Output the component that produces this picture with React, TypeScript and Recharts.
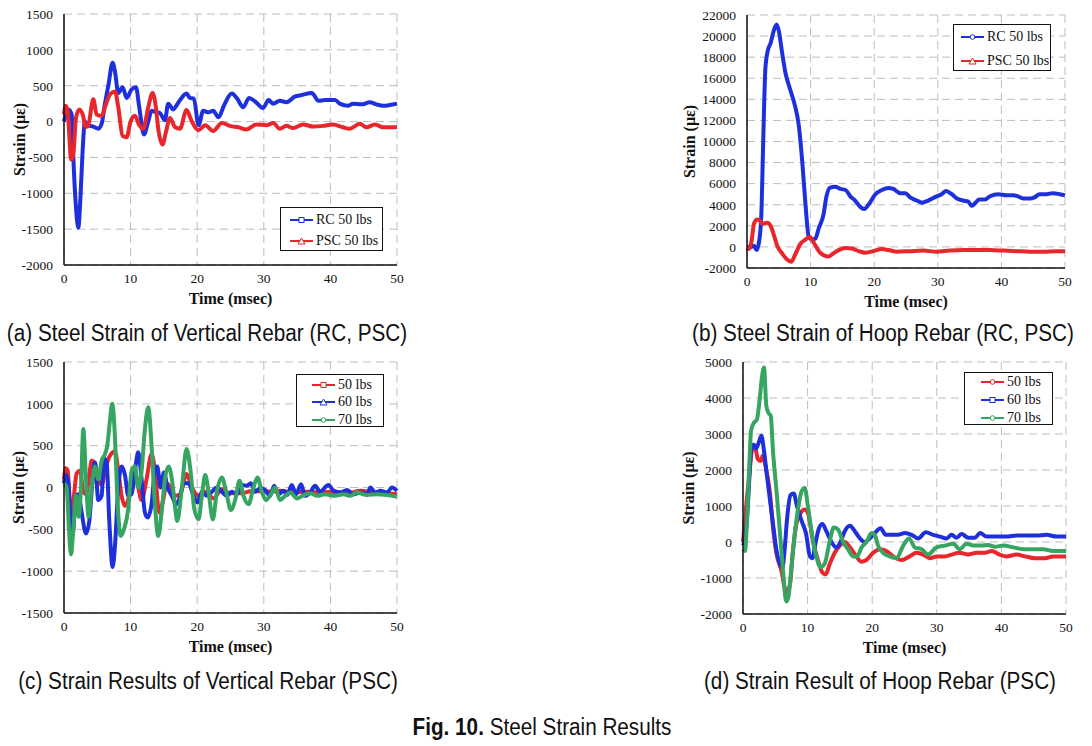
import React from "react";
import { LineChart, Line, XAxis, YAxis, CartesianGrid } from "recharts";

// time axis (msec)
const xTicks = [0, 10, 20, 30, 40, 50];

// (a) vertical rebar, RC vs PSC
const aYTicks = [-2000, -1500, -1000, -500, 0, 500, 1000, 1500];
const aRcT = [0, 0.65, 1.15, 1.4, 1.8, 2.15, 2.5, 2.8, 3.15, 3.5, 4.4, 5.15, 5.65, 6.15, 6.65, 7.3, 7.65, 8.15, 8.8, 9.4, 10.15, 10.8, 11.3, 12.0, 12.65, 13.15, 13.9, 14.4, 15.15, 15.65, 16.4, 17.2, 18.4, 18.9, 19.5, 20.2, 20.9, 21.7, 22.4, 23.2, 24.0, 25.2, 26.0, 26.9, 27.8, 28.7, 29.9, 30.7, 31.4, 32.4, 33.4, 34.7, 35.7, 37.2, 38.2, 39.2, 40.7, 41.4, 42.7, 43.4, 44.7, 45.9, 46.9, 47.9, 48.9, 50];
const aRcV = [0, 170, 100, -500, -1200, -1480, -1000, -400, 0, -50, -70, -100, -30, 250, 500, 820, 700, 400, 480, 330, 450, 480, 200, -180, 0, 150, 130, 120, 20, 250, 170, 270, 390, 330, 320, -50, 150, 130, 150, 60, 220, 390, 320, 200, 330, 280, 190, 300, 250, 290, 270, 350, 370, 400, 290, 300, 300, 250, 220, 250, 240, 270, 240, 220, 230, 250];
const aPscT = [0, 0.25, 0.55, 0.8, 1.05, 1.4, 1.8, 2.3, 2.8, 3.3, 3.65, 4.4, 4.9, 5.65, 6.15, 6.9, 7.65, 8.15, 8.8, 9.4, 10.0, 10.65, 11.3, 11.9, 12.65, 13.3, 13.8, 14.15, 14.8, 15.3, 15.9, 16.7, 17.4, 18.4, 19.2, 20.2, 21.2, 22.4, 23.7, 24.9, 26.2, 27.4, 28.9, 30.4, 31.4, 32.4, 33.4, 34.4, 35.9, 37.4, 38.9, 40.4, 41.9, 42.9, 44.4, 45.4, 46.7, 47.9, 50];
const aPscV = [100, 220, 150, -200, -530, -450, 50, 170, 100, -80, -50, 310, 100, 80, 200, 380, 420, 200, -200, -220, 0, 80, -50, -100, 200, 400, 200, -100, -320, -150, 50, -80, -100, 160, 0, -120, -50, -130, -20, -60, -80, -110, -40, -50, -20, -100, -60, -90, -40, -70, -60, -40, -80, -100, -30, -80, -40, -80, -80];

// (b) hoop rebar, RC vs PSC
const bYTicks = [-2000, 0, 2000, 4000, 6000, 8000, 10000, 12000, 14000, 16000, 18000, 20000, 22000];
const bRcT = [0, 0.57, 1.1, 1.5, 1.9, 2.25, 2.55, 2.9, 3.3, 3.7, 4.2, 4.65, 5.0, 5.5, 6.05, 6.75, 7.5, 8.15, 8.7, 9.2, 9.7, 10.25, 10.75, 11.3, 12.0, 12.5, 13.0, 13.9, 14.7, 15.5, 16.25, 17.0, 17.8, 18.45, 19.1, 20.2, 21.2, 22.25, 23.0, 24.1, 24.9, 25.65, 26.7, 27.5, 28.5, 29.8, 30.6, 31.3, 32.2, 33.0, 34.0, 34.8, 35.3, 35.8, 36.5, 37.4, 38.2, 39.5, 40.8, 41.85, 42.6, 43.4, 44.5, 45.2, 46.0, 47.1, 48.1, 49.2, 50];
const bRcV = [0, 0, 100, -300, 500, 3000, 10000, 17000, 18700, 19300, 20500, 21100, 20500, 18500, 16500, 15000, 13500, 11500, 8000, 4000, 1000, 700, 800, 1800, 3000, 4800, 5600, 5700, 5500, 5400, 4800, 4400, 3800, 3600, 4000, 5000, 5400, 5600, 5500, 5100, 5100, 4700, 4400, 4200, 4400, 4800, 5000, 5300, 5000, 4600, 4400, 4300, 3900, 4100, 4500, 4500, 4800, 5000, 4900, 4900, 4800, 4600, 4600, 4700, 5000, 5000, 5100, 5000, 4900];
const bPscT = [0, 0.3, 0.7, 1.1, 1.6, 2.0, 2.4, 3.2, 3.7, 4.2, 4.75, 5.5, 6.3, 6.95, 7.6, 8.4, 9.2, 9.9, 10.5, 11.3, 12.1, 12.85, 13.6, 14.4, 15.5, 16.5, 17.55, 18.6, 19.9, 21.2, 22.25, 23.6, 25.65, 27.7, 29.8, 31.9, 34.0, 36.1, 38.2, 40.3, 42.4, 44.5, 46.55, 48.6, 50];
const bPscV = [-100, -200, 500, 2200, 2600, 2500, 2200, 2300, 2000, 1200, 100, -600, -1200, -1400, -700, 300, 700, 950, 400, -400, -800, -900, -600, -300, -100, -150, -400, -550, -400, -200, -300, -450, -400, -350, -450, -350, -300, -300, -300, -350, -400, -450, -450, -400, -400];

// (c) vertical rebar, PSC 50/60/70 lbs
const cYTicks = [-1500, -1000, -500, 0, 500, 1000, 1500];
const c50T = [0, 0.25, 0.55, 0.9, 1.15, 1.5, 1.9, 2.4, 2.9, 3.3, 3.8, 4.15, 4.65, 5.15, 5.65, 6.3, 6.9, 7.65, 8.15, 8.65, 9.15, 9.8, 10.4, 11.0, 11.65, 12.4, 13.15, 13.65, 14.3, 14.9, 15.4, 16.0, 16.7, 17.45, 18.4, 19.2, 20.2, 21.2, 22.45, 23.7, 24.95, 26.45, 28.45, 30.45, 32.45, 34.5, 36.5, 38.5, 40.5, 42.5, 44.5, 46.5, 48.5, 50];
const c50V = [100, 230, 200, -200, -400, -100, 170, 200, -50, -80, 150, 320, 280, 100, 30, 250, 380, 430, 200, -100, -220, -100, 150, 50, -150, 100, 400, 200, -300, -150, 50, 0, -100, -80, 160, 0, -100, -50, -130, -20, -70, -70, -40, -50, -40, -60, -50, -60, -50, -70, -40, -60, -70, -80];
const c60T = [0, 0.3, 0.65, 1.0, 1.3, 1.8, 2.15, 2.65, 3.3, 3.8, 4.3, 4.65, 5.15, 5.65, 6.0, 6.4, 6.8, 7.3, 7.65, 8.15, 8.65, 9.15, 9.65, 10.15, 10.65, 11.15, 11.65, 12.15, 12.55, 13.15, 13.65, 14.0, 14.5, 15.0, 15.55, 16.2, 16.85, 17.45, 17.95, 18.7, 19.45, 20.05, 20.7, 21.45, 22.2, 22.95, 23.7, 24.45, 25.2, 25.95, 26.7, 27.45, 28.05, 28.7, 29.45, 30.2, 30.95, 31.55, 32.2, 32.95, 33.55, 34.2, 34.85, 35.6, 36.2, 36.95, 37.7, 38.45, 39.7, 40.5, 41.5, 42.5, 43.5, 44.5, 45.5, 46.0, 46.75, 47.5, 48.5, 49.25, 50];
const c60V = [50, 150, 50, -400, -550, -100, -80, -300, -550, -400, 100, 300, -150, -100, 350, 300, -400, -950, -700, 0, 250, 150, -100, -80, 200, 420, 100, -300, -360, -200, 200, 250, 0, 180, 0, -100, -200, -100, 50, 50, -100, -180, -50, -100, -50, 0, -50, -100, -50, -80, 30, 20, 50, -50, -10, -30, -100, 20, -80, -40, -90, 30, -80, 40, -100, -60, 20, -50, 30, -40, -60, -30, -80, -60, -80, 0, -60, -40, -60, 0, -40];
const c70T = [0, 0.4, 0.75, 1.05, 1.4, 1.8, 2.2, 2.55, 2.9, 3.3, 3.7, 4.15, 4.65, 5.15, 5.65, 6.15, 6.5, 6.9, 7.25, 7.65, 8.0, 8.5, 9.0, 9.65, 10.15, 10.65, 11.15, 11.65, 12.15, 12.65, 13.15, 13.65, 14.15, 14.65, 15.15, 15.7, 16.2, 16.7, 17.0, 17.7, 18.4, 19.0, 19.55, 20.2, 20.7, 21.2, 21.7, 22.35, 22.95, 23.7, 24.35, 25.05, 25.7, 26.35, 26.95, 27.7, 28.45, 29.05, 29.7, 30.35, 31.05, 31.7, 32.45, 33.2, 33.95, 35.0, 36.0, 37.0, 38.0, 39.2, 40.5, 42.0, 43.0, 44.0, 45.5, 47.0, 48.5, 50];
const c70V = [50, 0, -500, -800, -500, -100, -350, 0, 700, 100, -350, 0, 250, 100, 320, 400, 500, 800, 1000, 600, -100, -580, -500, -250, 200, 250, 0, 200, 700, 960, 500, -200, -580, -300, 100, 250, 100, -250, -400, 0, 460, 200, -250, -380, -100, 150, -50, -380, -50, 120, -50, -270, -150, 80, -100, -200, 0, 120, -50, -150, -80, 0, -150, -100, -60, -130, -90, -70, -100, -80, -100, -80, -100, -60, -90, -80, -90, -110];

// (d) hoop rebar, PSC 50/60/70 lbs
const dYTicks = [-2000, -1000, 0, 1000, 2000, 3000, 4000, 5000];
const d50T = [0, 0.3, 0.6, 0.95, 1.25, 1.65, 1.95, 2.3, 2.7, 3.1, 3.6, 4.15, 4.65, 5.15, 5.95, 6.7, 7.25, 7.75, 8.25, 8.9, 9.55, 10.05, 10.85, 11.6, 12.3, 12.8, 13.45, 14.2, 15.0, 15.75, 16.55, 17.55, 18.35, 19.1, 20.15, 21.2, 22.2, 23.25, 24.55, 25.8, 26.85, 27.9, 28.9, 29.95, 31.25, 32.3, 33.55, 34.85, 36.15, 37.45, 38.5, 39.75, 40.8, 42.35, 43.65, 45.2, 46.75, 48.0, 50];
const d50V = [0, 600, 1200, 1800, 2400, 2700, 2600, 2300, 2250, 2400, 2000, 1400, 400, -300, -800, -1400, -1200, -200, 500, 800, 900, 800, 0, -500, -850, -900, -600, -300, -100, 0, -150, -400, -550, -500, -300, -200, -250, -400, -500, -400, -300, -350, -450, -400, -400, -350, -300, -350, -300, -300, -250, -350, -400, -350, -400, -450, -450, -400, -400];
const d60T = [0, 0.4, 0.75, 1.05, 1.3, 1.65, 2.05, 2.5, 2.85, 3.2, 3.6, 4.15, 4.65, 5.15, 5.7, 6.1, 6.45, 6.8, 7.35, 7.85, 8.35, 9.05, 9.8, 10.35, 10.75, 11.25, 11.8, 12.3, 12.9, 13.7, 14.45, 15.1, 15.75, 16.55, 17.3, 18.1, 18.85, 19.6, 20.4, 21.3, 22.1, 23.0, 24.0, 25.05, 26.1, 27.1, 28.3, 29.45, 30.5, 31.5, 32.3, 33.05, 33.85, 34.85, 35.9, 36.7, 37.7, 39.25, 40.8, 42.35, 43.9, 45.45, 47.0, 48.55, 50];
const d60V = [-100, 200, 1000, 2000, 2600, 2700, 2600, 2800, 2950, 2600, 2000, 1200, 500, -200, -600, -700, -200, 600, 1300, 1350, 1000, 600, 200, -400, -450, 0, 400, 500, 300, 0, -150, 0, 300, 450, 300, 100, 0, 100, 250, 380, 200, 200, 200, 250, 200, 100, 270, 200, 150, 100, 200, 120, 220, 120, 120, 250, 150, 150, 150, 180, 180, 180, 200, 150, 150];
const d70T = [0, 0.3, 0.6, 0.95, 1.25, 1.65, 2.15, 2.6, 2.95, 3.25, 3.6, 3.9, 4.3, 4.65, 5.15, 5.7, 6.2, 6.7, 7.05, 7.5, 8.0, 8.5, 9.05, 9.55, 10.05, 10.6, 11.35, 12.0, 12.65, 13.4, 14.05, 14.7, 15.5, 16.25, 17.05, 17.65, 18.35, 19.1, 19.9, 20.4, 20.9, 21.7, 22.7, 23.75, 24.8, 25.7, 26.6, 27.65, 28.65, 29.95, 31.25, 32.55, 33.55, 34.6, 35.65, 36.9, 37.95, 39.0, 40.3, 41.85, 43.4, 44.95, 46.5, 48.0, 50];
const d70V = [-200, -250, 500, 2000, 3100, 3300, 3400, 4000, 4600, 4850, 3800, 3600, 3500, 2500, 1500, 300, -800, -1650, -1500, -700, 200, 900, 1400, 1500, 1000, 300, -400, -700, -600, 0, 400, 350, 0, -200, -400, -400, -150, 0, 250, 200, -100, -300, -400, -450, -100, 100, -150, -200, -350, -150, -100, -50, -200, -50, -100, -100, -80, -130, -100, -150, -200, -200, -200, -250, -250];

const BLUE = "#1d30dc";
const RED = "#e8262b";
const GREEN = "#35a561";
const SERIF = '"Liberation Serif", "Times New Roman", serif';
const CAPTION = '"Liberation Sans", Arial, sans-serif';

const zip = (t: number[], v: number[]) => t.map((x, i) => ({ t: x, v: v[i] }));

type Series = { name: string; color: string; marker: string; t: number[]; v: number[] };

function Panel(props: any) {
  const { left, top, width, height, margin, yWidth, yTitleOffset, domain, ticks, series } = props;
  return (
    <div style={{ position: "absolute", left, top }}>
      <LineChart width={width} height={height} margin={margin} style={{ fontFamily: SERIF }}>
        <CartesianGrid stroke="#bdbdbd" strokeDasharray="8 5" />
        <XAxis
          dataKey="t"
          type="number"
          domain={[0, 50]}
          ticks={xTicks}
          interval={0}
          height={45}
          tickLine={false}
          tickSize={0}
          tickMargin={8}
          axisLine={{ stroke: "#111", strokeWidth: 1.5 }}
          tick={{ fontSize: 13.5, fill: "#111", fontFamily: SERIF }}
          label={{ value: "Time (msec)", position: "insideBottom", offset: 6, style: { fontWeight: "bold", fontSize: 16, fill: "#111", fontFamily: SERIF } }}
        />
        <XAxis xAxisId="top" orientation="top" type="number" domain={[0, 50]} height={0} tick={false} tickLine={false} axisLine={{ stroke: "#111", strokeWidth: 1.5 }} />
        <YAxis
          type="number"
          domain={domain}
          ticks={ticks}
          interval={0}
          width={yWidth}
          tickLine={false}
          tickSize={0}
          tickMargin={11}
          axisLine={{ stroke: "#111", strokeWidth: 1.5 }}
          tick={{ fontSize: 13.5, fill: "#111", fontFamily: SERIF }}
          label={{ value: "Strain (με)", angle: -90, position: "insideLeft", offset: yTitleOffset, style: { textAnchor: "middle", fontWeight: "bold", fontSize: 16, fill: "#111", fontFamily: SERIF } }}
        />
        <YAxis yAxisId="right" orientation="right" type="number" domain={domain} width={0} tick={false} tickLine={false} axisLine={{ stroke: "#111", strokeWidth: 1.5 }} />
        {series.map((s: Series) => (
          <Line
            key={s.name}
            data={zip(s.t, s.v)}
            dataKey="v"
            name={s.name}
            type="monotone"
            stroke={s.color}
            strokeWidth={4}
            dot={false}
            isAnimationActive={false}
          />
        ))}
      </LineChart>
    </div>
  );
}

function Marker({ kind, color }: { kind: string; color: string }) {
  if (kind === "square") return <rect x={9} y={2.5} width={5} height={5} fill="#fff" stroke={color} strokeWidth={1} />;
  if (kind === "triangle") return <polygon points="11.5,2 15,8 8,8" fill="#fff" stroke={color} strokeWidth={1} />;
  return <circle cx={11.5} cy={5} r={2.3} fill="#fff" stroke={color} strokeWidth={1} />;
}

function LegendBox(props: any) {
  const { x, y, w, h, padTop, padLeft, rowH, series } = props;
  return (
    <div
      style={{
        position: "absolute",
        left: x,
        top: y,
        width: w,
        height: h,
        boxSizing: "border-box",
        border: "1.5px solid #111",
        background: "#fff",
        paddingTop: padTop,
        paddingLeft: padLeft,
        fontFamily: SERIF,
        fontSize: 14,
        color: "#111",
      }}
    >
      {series.map((s: Series) => (
        <div key={s.name} style={{ height: rowH, display: "flex", alignItems: "center", whiteSpace: "nowrap" }}>
          <svg width={24} height={10} style={{ marginRight: 2 }}>
            <line x1={0} y1={5} x2={23} y2={5} stroke={s.color} strokeWidth={2} />
            <Marker kind={s.marker} color={s.color} />
          </svg>
          <span>{s.name}</span>
        </div>
      ))}
    </div>
  );
}

function Caption({ cx, cy, children, size = 23 }: any) {
  return (
    <div
      style={{
        position: "absolute",
        left: cx,
        top: cy - size / 2,
        transform: "translateX(-50%) scaleX(0.9)",
        fontFamily: CAPTION,
        fontSize: size,
        lineHeight: `${size}px`,
        whiteSpace: "nowrap",
        color: "#111",
      }}
    >
      {children}
    </div>
  );
}

export default function App() {
  const aSeries: Series[] = [
    { name: "RC 50 lbs", color: BLUE, marker: "square", t: aRcT, v: aRcV },
    { name: "PSC 50 lbs", color: RED, marker: "triangle", t: aPscT, v: aPscV },
  ];
  const bSeries: Series[] = [
    { name: "RC 50 lbs", color: BLUE, marker: "circle", t: bRcT, v: bRcV },
    { name: "PSC 50 lbs", color: RED, marker: "triangle", t: bPscT, v: bPscV },
  ];
  const cSeries: Series[] = [
    { name: "50 lbs", color: RED, marker: "square", t: c50T, v: c50V },
    { name: "60 lbs", color: BLUE, marker: "triangle", t: c60T, v: c60V },
    { name: "70 lbs", color: GREEN, marker: "circle", t: c70T, v: c70V },
  ];
  const dSeries: Series[] = [
    { name: "50 lbs", color: RED, marker: "circle", t: d50T, v: d50V },
    { name: "60 lbs", color: BLUE, marker: "square", t: d60T, v: d60V },
    { name: "70 lbs", color: GREEN, marker: "circle", t: d70T, v: d70V },
  ];

  return (
    <div style={{ position: "absolute", left: 0, top: 0, width: 1092, height: 746, background: "#fff", overflow: "hidden" }}>
      <Panel left={0} top={0} width={420} height={320} margin={{ top: 14, right: 23, bottom: 10, left: 14 }} yWidth={50} yTitleOffset={5} domain={[-2000, 1500]} ticks={aYTicks} series={aSeries} />
      <Panel left={680} top={0} width={410} height={320} margin={{ top: 15, right: 25, bottom: 7, left: 7 }} yWidth={60} yTitleOffset={2} domain={[-2000, 22000]} ticks={bYTicks} series={bSeries} />
      <Panel left={0} top={350} width={420} height={320} margin={{ top: 12, right: 23, bottom: 12, left: 14 }} yWidth={50} yTitleOffset={4} domain={[-1500, 1500]} ticks={cYTicks} series={cSeries} />
      <Panel left={680} top={350} width={410} height={320} margin={{ top: 12, right: 24, bottom: 11, left: 3 }} yWidth={60} yTitleOffset={5} domain={[-2000, 5000]} ticks={dYTicks} series={dSeries} />

      <LegendBox x={280} y={207} w={103} h={44} padTop={1.5} padLeft={9} rowH={21} series={aSeries} />
      <LegendBox x={953} y={24} w={98} h={47} padTop={0} padLeft={7} rowH={24} series={bSeries} />
      <LegendBox x={296} y={374} w={88} h={53} padTop={1} padLeft={15} rowH={17.5} series={cSeries} />
      <LegendBox x={964} y={372} w={89} h={53} padTop={0} padLeft={16} rowH={18} series={dSeries} />

      <Caption cx={207} cy={333}>(a) Steel Strain of Vertical Rebar (RC, PSC)</Caption>
      <Caption cx={883} cy={333}>(b) Steel Strain of Hoop Rebar (RC, PSC)</Caption>
      <Caption cx={208} cy={681}>(c) Strain Results of Vertical Rebar (PSC)</Caption>
      <Caption cx={880} cy={681}>(d) Strain Result of Hoop Rebar (PSC)</Caption>
      <Caption cx={542} cy={727}>
        <b>Fig. 10.</b> Steel Strain Results
      </Caption>
    </div>
  );
}
